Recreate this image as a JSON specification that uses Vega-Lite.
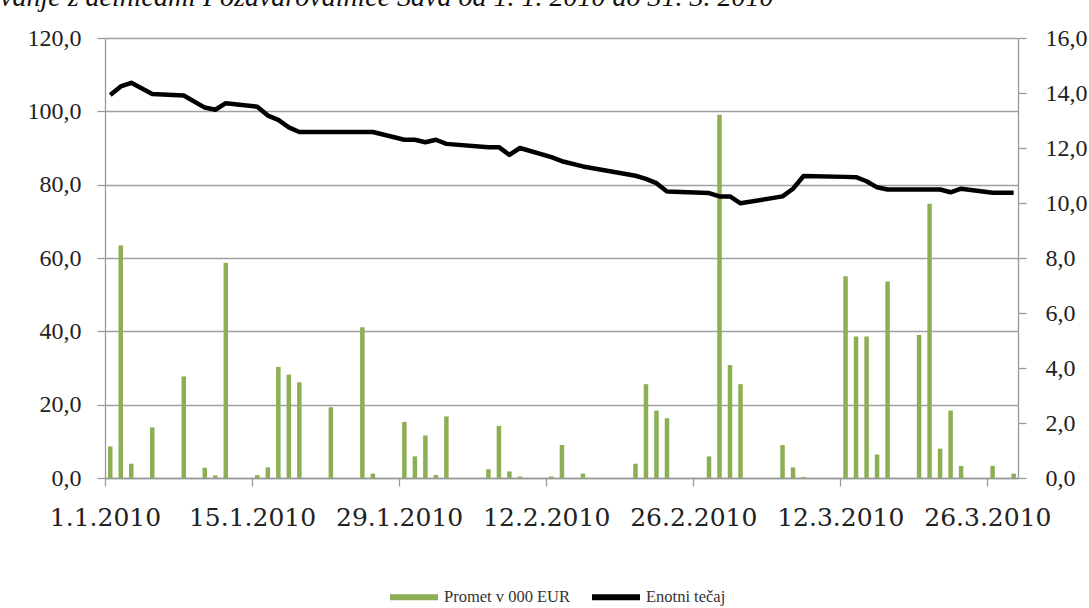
{
  "$schema": "https://vega.github.io/schema/vega-lite/v6.json",
  "width": 913,
  "height": 440,
  "autosize": {"type": "none"},
  "padding": {"left": 105, "top": 38, "right": 71, "bottom": 130},
  "background": "white",
  "title": {
    "text": "vanje z delnicami Pozavarovalnice Sava od 1. 1. 2010 do 31. 3. 2010",
    "anchor": "start",
    "frame": "group",
    "orient": "top",
    "baseline": "alphabetic",
    "offset": 19,
    "dx": -105,
    "dy": 27,
    "font": "Liberation Serif",
    "fontStyle": "italic",
    "fontWeight": "normal",
    "fontSize": 28,
    "color": "#111"
  },
  "datasets": {
    "promet": [
      {"date": "2010-01-01", "promet": 8.6},
      {"date": "2010-01-02", "promet": 63.4},
      {"date": "2010-01-03", "promet": 3.9},
      {"date": "2010-01-05", "promet": 13.8},
      {"date": "2010-01-08", "promet": 27.7},
      {"date": "2010-01-10", "promet": 2.8},
      {"date": "2010-01-11", "promet": 0.7},
      {"date": "2010-01-12", "promet": 58.7},
      {"date": "2010-01-15", "promet": 0.8},
      {"date": "2010-01-16", "promet": 2.9},
      {"date": "2010-01-17", "promet": 30.3},
      {"date": "2010-01-18", "promet": 28.2},
      {"date": "2010-01-19", "promet": 26.1},
      {"date": "2010-01-22", "promet": 19.3},
      {"date": "2010-01-25", "promet": 41.1},
      {"date": "2010-01-26", "promet": 1.2},
      {"date": "2010-01-29", "promet": 15.3},
      {"date": "2010-01-30", "promet": 5.9},
      {"date": "2010-01-31", "promet": 11.6},
      {"date": "2010-02-01", "promet": 0.8},
      {"date": "2010-02-02", "promet": 16.8},
      {"date": "2010-02-06", "promet": 2.4},
      {"date": "2010-02-07", "promet": 14.2},
      {"date": "2010-02-08", "promet": 1.8},
      {"date": "2010-02-09", "promet": 0.4},
      {"date": "2010-02-12", "promet": 0.4},
      {"date": "2010-02-13", "promet": 9.0},
      {"date": "2010-02-15", "promet": 1.2},
      {"date": "2010-02-20", "promet": 3.9},
      {"date": "2010-02-21", "promet": 25.6},
      {"date": "2010-02-22", "promet": 18.4},
      {"date": "2010-02-23", "promet": 16.3},
      {"date": "2010-02-27", "promet": 5.9},
      {"date": "2010-02-28", "promet": 99.1},
      {"date": "2010-03-01", "promet": 30.8},
      {"date": "2010-03-02", "promet": 25.6},
      {"date": "2010-03-06", "promet": 9.0},
      {"date": "2010-03-07", "promet": 2.9},
      {"date": "2010-03-08", "promet": 0.3},
      {"date": "2010-03-12", "promet": 55.0},
      {"date": "2010-03-13", "promet": 38.6},
      {"date": "2010-03-14", "promet": 38.6},
      {"date": "2010-03-15", "promet": 6.4},
      {"date": "2010-03-16", "promet": 53.6},
      {"date": "2010-03-19", "promet": 39.0},
      {"date": "2010-03-20", "promet": 74.8},
      {"date": "2010-03-21", "promet": 8.0},
      {"date": "2010-03-22", "promet": 18.4},
      {"date": "2010-03-23", "promet": 3.3},
      {"date": "2010-03-26", "promet": 3.3},
      {"date": "2010-03-28", "promet": 1.2}
    ],
    "tecaj": [
      {"date": "2010-01-01", "tecaj": 13.93},
      {"date": "2010-01-02", "tecaj": 14.24},
      {"date": "2010-01-03", "tecaj": 14.37},
      {"date": "2010-01-05", "tecaj": 13.96},
      {"date": "2010-01-08", "tecaj": 13.91},
      {"date": "2010-01-10", "tecaj": 13.47},
      {"date": "2010-01-11", "tecaj": 13.39},
      {"date": "2010-01-12", "tecaj": 13.63},
      {"date": "2010-01-15", "tecaj": 13.5},
      {"date": "2010-01-16", "tecaj": 13.18},
      {"date": "2010-01-17", "tecaj": 13.02},
      {"date": "2010-01-18", "tecaj": 12.75},
      {"date": "2010-01-19", "tecaj": 12.58},
      {"date": "2010-01-22", "tecaj": 12.58},
      {"date": "2010-01-25", "tecaj": 12.58},
      {"date": "2010-01-26", "tecaj": 12.58},
      {"date": "2010-01-29", "tecaj": 12.3},
      {"date": "2010-01-30", "tecaj": 12.3},
      {"date": "2010-01-31", "tecaj": 12.21},
      {"date": "2010-02-01", "tecaj": 12.3},
      {"date": "2010-02-02", "tecaj": 12.15},
      {"date": "2010-02-06", "tecaj": 12.03},
      {"date": "2010-02-07", "tecaj": 12.03},
      {"date": "2010-02-08", "tecaj": 11.75},
      {"date": "2010-02-09", "tecaj": 12.0},
      {"date": "2010-02-12", "tecaj": 11.67},
      {"date": "2010-02-13", "tecaj": 11.52},
      {"date": "2010-02-15", "tecaj": 11.33},
      {"date": "2010-02-20", "tecaj": 10.99},
      {"date": "2010-02-21", "tecaj": 10.88},
      {"date": "2010-02-22", "tecaj": 10.72},
      {"date": "2010-02-23", "tecaj": 10.42},
      {"date": "2010-02-27", "tecaj": 10.36},
      {"date": "2010-02-28", "tecaj": 10.24},
      {"date": "2010-03-01", "tecaj": 10.24},
      {"date": "2010-03-02", "tecaj": 9.99},
      {"date": "2010-03-06", "tecaj": 10.24},
      {"date": "2010-03-07", "tecaj": 10.52},
      {"date": "2010-03-08", "tecaj": 10.98},
      {"date": "2010-03-12", "tecaj": 10.95},
      {"date": "2010-03-13", "tecaj": 10.94},
      {"date": "2010-03-14", "tecaj": 10.79},
      {"date": "2010-03-15", "tecaj": 10.57},
      {"date": "2010-03-16", "tecaj": 10.49},
      {"date": "2010-03-19", "tecaj": 10.49},
      {"date": "2010-03-20", "tecaj": 10.49},
      {"date": "2010-03-21", "tecaj": 10.49},
      {"date": "2010-03-22", "tecaj": 10.39},
      {"date": "2010-03-23", "tecaj": 10.52},
      {"date": "2010-03-26", "tecaj": 10.37},
      {"date": "2010-03-28", "tecaj": 10.37}
    ]
  },
  "layer": [
    {
      "data": {"name": "promet"},
      "mark": {"type": "bar", "color": "#8CAF55", "width": 4.5},
      "encoding": {
        "x": {
          "field": "date",
          "type": "temporal",
          "timeUnit": "utcyearmonthdate",
          "scale": {
            "type": "utc",
            "domain": [
              {"year": 2010, "month": 1, "date": 1, "utc": true},
              {"year": 2010, "month": 3, "date": 28, "hours": 22, "utc": true}
            ]
          },
          "axis": {
            "title": null,
            "grid": false,
            "values": [
              {"year": 2010, "month": 1, "date": 1, "utc": true},
              {"year": 2010, "month": 1, "date": 15, "utc": true},
              {"year": 2010, "month": 1, "date": 29, "utc": true},
              {"year": 2010, "month": 2, "date": 12, "utc": true},
              {"year": 2010, "month": 2, "date": 26, "utc": true},
              {"year": 2010, "month": 3, "date": 12, "utc": true},
              {"year": 2010, "month": 3, "date": 26, "utc": true}
            ],
            "labelExpr": "utcFormat(datum.value, '%-d.%-m.%Y')",
            "labelFlush": false,
            "labelOverlap": false,
            "labelFont": "DejaVu Serif",
            "labelFontSize": 25,
            "tickSize": 8,
            "labelPadding": 19,
            "labelAngle": 0
          }
        },
        "y": {
          "field": "promet",
          "type": "quantitative",
          "scale": {"domain": [0, 120], "nice": false},
          "axis": {
            "title": null,
            "orient": "left",
            "values": [0, 20, 40, 60, 80, 100, 120],
            "grid": true,
            "labelExpr": "replace(format(datum.value, '.1f'), '.', ',')"
          }
        },
        "color": {
          "datum": "Promet v 000 EUR",
          "type": "nominal",
          "scale": {
            "domain": ["Promet v 000 EUR", "Enotni tečaj"],
            "range": ["#8CAF55", "#000000"]
          },
          "legend": {
            "title": null,
            "orient": "none",
            "direction": "horizontal",
            "legendX": 285,
            "legendY": 535,
            "symbolType": "M-1,-0.12L1,-0.12L1,0.12L-1,0.12Z",
            "symbolSize": 2304,
            "symbolStrokeWidth": 0,
            "labelFont": "Liberation Serif",
            "labelFontSize": 16.5,
            "labelColor": "#333",
            "labelOffset": 6,
            "columnPadding": 21
          }
        }
      }
    },
    {
      "data": {"name": "tecaj"},
      "mark": {"type": "line", "color": "#000000", "strokeWidth": 4.5, "strokeJoin": "round"},
      "encoding": {
        "x": {
          "field": "date",
          "type": "temporal",
          "timeUnit": "utcyearmonthdate",
          "bandPosition": 0.5
        },
        "y": {
          "field": "tecaj",
          "type": "quantitative",
          "scale": {"domain": [0, 16], "nice": false},
          "axis": {
            "title": null,
            "orient": "right",
            "values": [0, 2, 4, 6, 8, 10, 12, 14, 16],
            "grid": false,
            "labelPadding": 19,
            "labelExpr": "replace(format(datum.value, '.1f'), '.', ',')"
          }
        },
        "color": {"datum": "Enotni tečaj", "type": "nominal"}
      }
    }
  ],
  "resolve": {"scale": {"y": "independent"}},
  "config": {
    "view": {"stroke": null},
    "axis": {
      "domainColor": "#999999",
      "domainWidth": 1.3,
      "tickColor": "#999999",
      "tickWidth": 1.3,
      "tickSize": 8,
      "gridColor": "#a0a0a0",
      "gridWidth": 1.3,
      "labelFont": "Liberation Serif",
      "labelFontSize": 24,
      "labelColor": "#222222",
      "labelPadding": 16
    }
  }
}
